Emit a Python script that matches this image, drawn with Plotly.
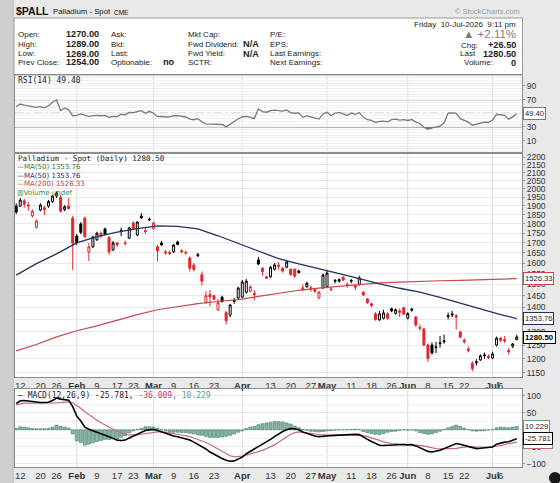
import numpy as np
import pandas as pd
import plotly.graph_objects as go

# ---------------- data ----------------
HOLIDAYS = ["2026-01-19", "2026-02-16", "2026-04-03", "2026-05-25", "2026-06-19", "2026-07-03"]
dates = [d.strftime("%Y-%m-%d") for d in
         pd.bdate_range("2026-01-09", "2026-07-10", freq="C", holidays=HOLIDAYS)]

opens = [1900, 1900, 1930, 1905, 1844, 1782, 1877, 1890, 1899, 1925,
         1958, 1950, 1880, 1900, 1832, 1735, 1800, 1832, 1654, 1680,
         1716, 1750, 1773, 1728, 1664, 1700, 1760, 1700, 1725, 1805,
         1741, 1843, 1765, 1822, 1775, 1680, 1700, 1655, 1652, 1655,
         1705, 1660, 1652, 1625, 1590, 1635, 1545, 1422, 1455, 1450,
         1389, 1444, 1378, 1368, 1425, 1440, 1444, 1465, 1470, 1460,
         1615, 1575, 1528, 1535, 1570, 1590, 1575, 1580, 1570, 1570,
         1562, 1485, 1490, 1485, 1478, 1440, 1485, 1490, 1480, 1515,
         1515, 1533, 1500, 1515, 1495, 1500, 1465, 1436, 1415, 1373,
         1348, 1355, 1373, 1394, 1375, 1385, 1398, 1355, 1388, 1360,
         1318, 1312, 1250, 1250, 1240, 1255, 1262, 1362, 1368, 1365,
         1300, 1268, 1235, 1183, 1185, 1195, 1210, 1208, 1202, 1250,
         1276, 1270, 1230, 1246, 1270]
highs = [1915, 1945, 1940, 1925, 1880, 1825, 1915, 1900, 1935, 1962,
         1985, 1965, 1905, 1948, 1845, 1745, 1810, 1840, 1700, 1738,
         1758, 1760, 1780, 1735, 1710, 1705, 1780, 1712, 1785, 1815,
         1815, 1860, 1780, 1835, 1812, 1690, 1710, 1665, 1662, 1695,
         1712, 1670, 1662, 1632, 1600, 1650, 1560, 1470, 1475, 1455,
         1436, 1450, 1385, 1415, 1440, 1490, 1520, 1525, 1495, 1475,
         1630, 1580, 1540, 1585, 1600, 1605, 1580, 1610, 1575, 1575,
         1568, 1500, 1512, 1495, 1485, 1470, 1550, 1565, 1490, 1525,
         1528, 1538, 1510, 1525, 1500, 1540, 1470, 1440, 1420, 1380,
         1385, 1390, 1380, 1398, 1395, 1395, 1402, 1380, 1398, 1365,
         1330, 1315, 1255, 1260, 1262, 1285, 1290, 1378, 1385, 1372,
         1305, 1275, 1245, 1190, 1198, 1215, 1222, 1215, 1225, 1282,
         1280, 1285, 1238, 1258, 1289]
lows = [1855, 1895, 1890, 1872, 1835, 1775, 1870, 1850, 1890, 1918,
        1945, 1862, 1870, 1880, 1567, 1690, 1745, 1725, 1610, 1675,
        1710, 1725, 1740, 1640, 1660, 1680, 1735, 1688, 1720, 1770,
        1735, 1828, 1745, 1815, 1770, 1610, 1685, 1640, 1640, 1650,
        1688, 1648, 1640, 1560, 1560, 1630, 1495, 1415, 1405, 1430,
        1385, 1420, 1330, 1360, 1415, 1435, 1440, 1460, 1465, 1430,
        1590, 1540, 1525, 1530, 1565, 1570, 1555, 1575, 1540, 1530,
        1550, 1470, 1485, 1468, 1462, 1435, 1480, 1485, 1470, 1505,
        1508, 1515, 1485, 1505, 1475, 1495, 1448, 1415, 1400, 1345,
        1345, 1350, 1350, 1380, 1370, 1360, 1368, 1350, 1382, 1320,
        1305, 1245, 1188, 1215, 1220, 1240, 1255, 1350, 1360, 1310,
        1275, 1255, 1222, 1155, 1175, 1192, 1200, 1198, 1198, 1245,
        1262, 1258, 1215, 1238, 1269]
closes = [1866, 1934, 1910, 1900, 1871, 1816, 1905, 1880, 1925, 1958,
          1975, 1870, 1895, 1885, 1698, 1702, 1755, 1733, 1680, 1730,
          1750, 1735, 1745, 1655, 1700, 1690, 1765, 1697, 1778, 1776,
          1810, 1833, 1760, 1825, 1805, 1660, 1690, 1650, 1648, 1689,
          1692, 1655, 1650, 1575, 1570, 1640, 1515, 1450, 1445, 1435,
          1420, 1425, 1345, 1410, 1430, 1484, 1511, 1515, 1490, 1455,
          1595, 1560, 1535, 1580, 1591, 1585, 1562, 1605, 1545, 1538,
          1555, 1480, 1505, 1480, 1470, 1466, 1543, 1552, 1477, 1518,
          1522, 1520, 1495, 1518, 1488, 1530, 1453, 1420, 1408, 1350,
          1373, 1377, 1355, 1385, 1390, 1380, 1372, 1374, 1392, 1328,
          1315, 1250, 1200, 1220, 1243, 1258, 1265, 1365, 1372, 1360,
          1280, 1262, 1230, 1165, 1188, 1210, 1213, 1203, 1217, 1276,
          1268, 1265, 1225, 1254, 1280.5]

# moving averages read at every 5th session (plus last)
ma_idx = [0, 5, 10, 15, 20, 25, 30, 35, 40, 45, 50, 55, 60, 65, 70, 75, 80, 85, 90, 95,
          100, 105, 110, 115, 120, 124]
ma50 = [1543, 1597, 1645, 1700, 1733, 1756, 1775, 1790, 1787, 1773, 1737, 1698, 1660,
        1621, 1596, 1574, 1550, 1527, 1503, 1483, 1466, 1443, 1418, 1392, 1370, 1353.76]
ma200 = [1228, 1252, 1281, 1305, 1324, 1348, 1370, 1390, 1403, 1416, 1425, 1433, 1447,
         1462, 1474, 1484, 1492, 1500, 1507, 1511, 1515, 1517, 1519, 1521, 1524, 1526.33]

rsi = [59.6, 63.5, 62, 61, 59.5, 58.7, 59.6, 57.8, 61, 66,
       69.5, 54, 57.8, 55, 46.3, 47, 49, 46.5, 45, 46.5,
       47, 46.3, 46.8, 43.9, 45.5, 45, 48.5, 47.7, 51.3, 50.8,
       52, 53.7, 50, 52.8, 50, 45, 45.5, 44.5, 44.7, 46.3,
       46.5, 45.5, 44.5, 41.5, 40.5, 42, 37.5, 34.5, 34, 33.5,
       33, 33.5, 30, 34, 37, 42, 44.5, 45.5, 44, 42.5,
       56.2, 52.5, 51.5, 53.7, 54.5, 54, 53, 54.7, 51, 50,
       50.5, 44, 46, 44.7, 43.5, 41.4, 49, 51.3, 46.3, 50,
       51.3, 49, 46.5, 50.5, 48.5, 50.8, 44, 40.5, 39.4, 36.5,
       38, 38.3, 37.5, 40.5, 41.5, 40, 40.5, 39.4, 41, 37,
       35, 29.5, 26.6, 28.5, 29.6, 31, 36, 50.3, 50.5, 49.8,
       42, 39.5, 37, 32.5, 34, 36, 37, 36.5, 40, 48.5,
       47.8, 47, 41.4, 44.7, 49.4]

macd = [77, 85, 86, 84, 82, 81, 80, 80, 81, 86,
        93, 90, 89, 87, 68, 40, 26, 8, 2, -2,
        -6, -10, -14, -20, -25, -30, -31, -30, -24, -19,
        -14, -9, -2, 0, 1, -2, -6, -10, -16, -18,
        -20, -23, -25, -30, -36, -43, -48, -56, -65, -72,
        -78, -84, -89, -92, -91, -86, -80, -70, -63, -58,
        -50, -42, -35, -28, -20, -12, -5, 0, 4, 3,
        0, -6, -10, -15, -18, -20, -20, -18, -17, -16,
        -15, -15, -15, -14, -13, -14, -22, -28, -34, -40,
        -45, -46, -45, -45, -45, -44, -43, -44, -43, -47,
        -53, -58, -63, -65, -63, -60, -55, -50, -45, -40,
        -42, -45, -48, -53, -55, -54, -53, -51, -50, -42,
        -38, -36, -35, -30, -25.781]
signal = [73, 76, 78, 78, 78, 78, 77, 77, 77, 78,
          79, 80, 81, 82, 80, 72, 63, 53, 44, 36,
          28, 21, 14, 8, 2, -4, -9, -13, -15, -16,
          -15, -13, -11, -9, -7, -6, -6, -7, -9, -11,
          -13, -15, -17, -20, -24, -28, -32, -37, -43, -50,
          -56, -63, -70, -76, -79, -79, -77, -74, -71, -68,
          -65, -60, -55, -50, -44, -36, -28, -20, -13, -8,
          -6, -7, -9, -11, -13, -14, -15, -15, -15, -15,
          -15, -15, -15, -15, -15, -15, -17, -20, -23, -27,
          -31, -35, -38, -40, -41, -42, -43, -43, -43, -44,
          -45, -47, -50, -53, -55, -56, -56, -56, -55, -54,
          -52, -50, -49, -50, -51, -51, -51, -51, -50, -48,
          -46, -43, -41, -38, -36.009]

tick_dates = ["2026-01-12", "2026-01-20", "2026-01-26", "2026-02-02", "2026-02-09", "2026-02-17",
              "2026-02-23", "2026-03-02", "2026-03-09", "2026-03-16", "2026-03-23", "2026-04-01",
              "2026-04-13", "2026-04-20", "2026-04-27", "2026-05-01", "2026-05-11", "2026-05-18",
              "2026-05-26", "2026-06-01", "2026-06-08", "2026-06-15", "2026-06-22", "2026-07-01",
              "2026-07-06"]
tick_labels = ["12", "20", "26", "<b>Feb</b>", "9", "17", "23", "<b>Mar</b>", "9", "16", "23",
               "<b>Apr</b>", "13", "20", "27", "<b>May</b>", "11", "18", "26", "<b>Jun</b>", "8",
               "15", "22", "<b>Jul</b>", "6"]
month_starts = ["2026-02-02", "2026-03-02", "2026-04-01", "2026-05-01", "2026-06-01", "2026-07-01"]
price_ticks = list(range(1150, 2201, 50))
rsi_ticks = [10, 30, 70, 90]
macd_ticks = [-100, -50, 0, 50, 100]

# ---------------- helpers ----------------
n = min(len(dates), len(opens), len(highs), len(lows), len(closes))
W, H = 560, 483
L, R, T, B = 15, 38, 75, 16
PW, PH = W - L - R, H - T - B


def px(x):
    return (x - L) / PW


def py(y):
    return (H - B - y) / PH


AR = "Liberation Sans"
MONO = "DejaVu Sans Mono"
RED = "#e3262b"

fig = go.Figure()

# ---------------- RSI panel ----------------
fig.add_trace(go.Scatter(x=dates[:len(rsi)], y=[30] * len(rsi), mode="lines",
                         line=dict(width=0, color="rgba(0,0,0,0)"), xaxis="x", yaxis="y",
                         hoverinfo="skip", showlegend=False))
fig.add_trace(go.Scatter(x=dates[:len(rsi)], y=[min(v, 30) for v in rsi], mode="lines",
                         line=dict(width=0, color="rgba(0,0,0,0)"), fill="tonexty",
                         fillcolor="rgba(70,120,95,0.85)", xaxis="x", yaxis="y",
                         hoverinfo="skip", showlegend=False))
fig.add_trace(go.Scatter(x=dates[:len(rsi)], y=rsi, mode="lines",
                         line=dict(width=1.3, color="#7a7a7a"), xaxis="x", yaxis="y",
                         hoverinfo="skip", showlegend=False))

# ---------------- price panel ----------------
up = [True] + [closes[k] >= closes[k - 1] for k in range(1, n)]


def sub(arr, flag):
    return [a for a, u in zip(arr[:n], up) if u == flag]


for flag, col in [(True, "#000000"), (False, RED)]:
    fig.add_trace(go.Candlestick(
        x=sub(dates, flag), open=sub(opens, flag), high=sub(highs, flag),
        low=sub(lows, flag), close=sub(closes, flag),
        increasing=dict(line=dict(color=col, width=1), fillcolor="white"),
        decreasing=dict(line=dict(color=col, width=1), fillcolor=col),
        whiskerwidth=0, xaxis="x2", yaxis="y2", hoverinfo="skip", showlegend=False))

ma_x = [dates[k] for k in ma_idx]
fig.add_trace(go.Scatter(x=ma_x, y=ma200, mode="lines", line=dict(color="#c8494c", width=1.2),
                         xaxis="x2", yaxis="y2", hoverinfo="skip", showlegend=False))
fig.add_trace(go.Scatter(x=ma_x, y=ma50, mode="lines", line=dict(color="#22325f", width=1.3),
                         xaxis="x2", yaxis="y2", hoverinfo="skip", showlegend=False))

# ---------------- MACD panel ----------------
hist = [m - s for m, s in zip(macd, signal)]
fig.add_trace(go.Bar(x=dates[:len(hist)], y=hist,
                     marker=dict(color="#86b8a4", line=dict(color="#3d7a64", width=0.6)),
                     xaxis="x3", yaxis="y3", hoverinfo="skip", showlegend=False))
fig.add_trace(go.Scatter(x=dates[:len(signal)], y=signal, mode="lines",
                         line=dict(color="#c46a80", width=1.2),
                         xaxis="x3", yaxis="y3", hoverinfo="skip", showlegend=False))
fig.add_trace(go.Scatter(x=dates[:len(macd)], y=macd, mode="lines",
                         line=dict(color="#000000", width=1.6),
                         xaxis="x3", yaxis="y3", hoverinfo="skip", showlegend=False))

# ---------------- axes ----------------
xr = [-0.3, n + 0.3]
base_x = dict(type="category", categoryorder="array", categoryarray=dates, range=xr,
              showgrid=False, zeroline=False, showline=True, mirror=True, linecolor="#8c8c8c",
              linewidth=1, ticks="", fixedrange=True, automargin=False, tickangle=0)
tick_font = dict(family=AR, size=9.5, color="#333333")
ytick_font = dict(family=AR, size=8.5, color="#333333")
base_y = dict(side="right", ticks="outside", ticklen=2, tickcolor="#999", zeroline=False,
              showline=True, mirror=True, linecolor="#8c8c8c", fixedrange=True,
              automargin=False, tickfont=ytick_font, tickmode="array")

fig.update_layout(
    width=W, height=H, margin=dict(l=L, r=R, t=T, b=B, autoexpand=False),
    paper_bgcolor="#e9e9e9", plot_bgcolor="white", hovermode=False, showlegend=False,
    bargap=0.25,
    xaxis=dict(base_x, anchor="y", showticklabels=False),
    xaxis2=dict(base_x, anchor="y2", tickmode="array", tickvals=tick_dates, ticktext=tick_labels,
                tickfont=tick_font, rangeslider=dict(visible=False)),
    xaxis3=dict(base_x, anchor="y3", tickmode="array", tickvals=tick_dates, ticktext=tick_labels,
                tickfont=tick_font),
    yaxis=dict(base_y, domain=[py(152.5), 1.0], range=[-7.5, 106], anchor="x",
               tickvals=rsi_ticks, showgrid=False,
               minor=dict(tickmode="linear", tick0=10, dtick=4, showgrid=True,
                          gridcolor="#efefef", ticks="")),
    yaxis2=dict(base_y, domain=[py(377), py(152.5)], type="log",
                range=[np.log10(1135.2), np.log10(2232)], anchor="x2",
                tickvals=price_ticks, showgrid=True, gridcolor="#e8e8e8"),
    yaxis3=dict(base_y, domain=[0.0, py(389)], range=[-108.8, 119.6], anchor="x3",
                tickvals=macd_ticks, showgrid=True, gridcolor="#e8e8e8",
                minor=dict(tickmode="linear", tick0=0, dtick=25, showgrid=True,
                           gridcolor="#f2f2f2", ticks="")),
)

# ---------------- shapes ----------------
shapes = []
for m in month_starts:
    k = dates.index(m)
    for xa, ya in [("x", "y"), ("x2", "y2"), ("x3", "y3")]:
        shapes.append(dict(type="line", xref=xa, x0=k, x1=k, yref=ya + " domain", y0=0, y1=1,
                           line=dict(color="#dcdcdc", width=1), layer="below"))
for lvl in (70, 30):
    shapes.append(dict(type="line", xref="x domain", x0=0, x1=1, yref="y", y0=lvl, y1=lvl,
                       line=dict(color="#8a8a8a", width=1.3), layer="below"))
shapes.append(dict(type="line", xref="x domain", x0=0, x1=1, yref="y", y0=50, y1=50,
                   line=dict(color="#9a9a9a", width=1, dash="dashdot"), layer="below"))
# info box
shapes.append(dict(type="rect", xref="paper", yref="paper", x0=px(14), x1=px(522.5),
                   y0=py(75), y1=py(18), fillcolor="white", line=dict(color="#9a9a9a", width=1),
                   layer="below"))
# left frame band
shapes.append(dict(type="rect", xref="paper", yref="paper", x0=px(0), x1=px(12),
                   y0=py(483), y1=py(0), fillcolor="#cfcfcf", line=dict(width=0), layer="below"))
shapes.append(dict(type="line", xref="paper", yref="paper", x0=px(13), x1=px(13),
                   y0=py(483), y1=py(0), line=dict(color="#a8a8a8", width=1), layer="below"))
shapes.append(dict(type="circle", xref="paper", yref="paper", x0=px(549), x1=px(561),
                   y0=py(484), y1=py(472), fillcolor="#1a1a1a", line=dict(width=0)))
fig.update_layout(shapes=shapes)


# ---------------- text ----------------
def text(x, y, s, size=8, color="#222222", family=AR, anchor="left"):
    fig.add_annotation(x=px(x), y=py(y), xref="paper", yref="paper", text=s, showarrow=False,
                       xanchor=anchor, yanchor="middle", borderpad=0,
                       font=dict(family=family, size=size, color=color))


text(15, 11.5, "<b>$PALL</b>", size=10.5, color="#111")
text(52, 12, "Palladium - Spot", size=7.8, color="#111")
text(113, 12.5, "CME", size=6.5, color="#111")
text(487, 12, "© StockCharts.com", size=7.5, color="#9a9a9a", anchor="center")

rows_y = [34.5, 44.5, 53.5, 62]
for lab, val, yy in zip(["Open:", "High:", "Low:", "Prev Close:"],
                        ["1270.00", "1289.00", "1269.00", "1254.00"], rows_y):
    text(17, yy, lab)
    text(100, yy, "<b>" + val + "</b>", size=9.2, anchor="right")
for lab, yy in zip(["Ask:", "Bid:", "Last:", "Optionable:"], rows_y):
    text(110, yy, lab)
text(176, rows_y[3], "<b>no</b>", size=9.2, anchor="right")
for lab, yy in zip(["Mkt Cap:", "Fwd Dividend:", "Fwd Yield:", "SCTR:"], rows_y):
    text(187, yy, lab)
text(260, rows_y[1], "<b>N/A</b>", size=9.2, anchor="right")
text(260, rows_y[2], "<b>N/A</b>", size=9.2, anchor="right")
for lab, yy in zip(["P/E:", "EPS:", "Last Earnings:", "Next Earnings:"], rows_y):
    text(269, yy, lab)

text(517, 24, "Friday  10-Jul-2026  9:11 pm", anchor="right")
text(517, 33.5, "▲ +2.11%", size=11.5, color="#7d7d7d", anchor="right")
text(460, 45, "Chg:")
text(517, 45, "<b>+26.50</b>", size=9.2, anchor="right")
text(459, 54, "Last")
text(517, 54, "<b>1280.50</b>", size=9.2, anchor="right")
text(463, 62.7, "Volume:")
text(517, 62.7, "<b>0</b>", size=9.2, anchor="right")

# panel labels
text(17, 80.5, "RSI(14) 49.40", size=8, color="#222", family=MONO)
text(17, 158, "Palladium - Spot (Daily) 1280.50", size=7.6, color="#222", family=MONO)
text(16, 167, "—MA(50) 1353.76", size=7, color="#2f7d35", family="DejaVu Sans")
text(16, 175.5, "—MA(50) 1353.76", size=7, color="#22325f", family="DejaVu Sans")
text(16, 184, "—MA(200) 1526.33", size=7, color="#c03a3d", family="DejaVu Sans")
text(16, 192.7, "▥Volume undef", size=7, color="#3a8a3a", family="DejaVu Sans")
text(17, 395, "— MACD(12,26,9) -25.781, <span style='color:#b04468'>-36.009,</span> "
              "<span style='color:#5aa08a'>10.229</span>", size=8, color="#222", family=MONO)


# value tags on the right
def tag(s, y, yref, border, size=7.6, color="#222"):
    fig.add_annotation(x=1, xref="paper", y=y, yref=yref, xanchor="left", yanchor="middle",
                       xshift=1, text=s, showarrow=False, bgcolor="white", bordercolor=border,
                       borderwidth=1, borderpad=1, font=dict(family=AR, size=size, color=color))


tag("49.40", rsi[-1], "y", "#777")
tag("1526.33", np.log10(ma200[-1]), "y2", "#c8494c")
tag("1353.76", np.log10(ma50[-1]), "y2", "#22325f")
tag("<b>1280.50</b>", np.log10(closes[n - 1]), "y2", "#000", size=7.8, color="#000")
tag("10.229", hist[-1], "y3", "#5aa08a")
tag("-36.009", signal[-1], "y3", "#c46a80")
tag("-25.781", macd[-1], "y3", "#000")

fig.write_html("out.html", config={"displayModeBar": False, "staticPlot": True},
               post_script="document.body.style.margin='0';document.body.style.overflow='hidden';")
